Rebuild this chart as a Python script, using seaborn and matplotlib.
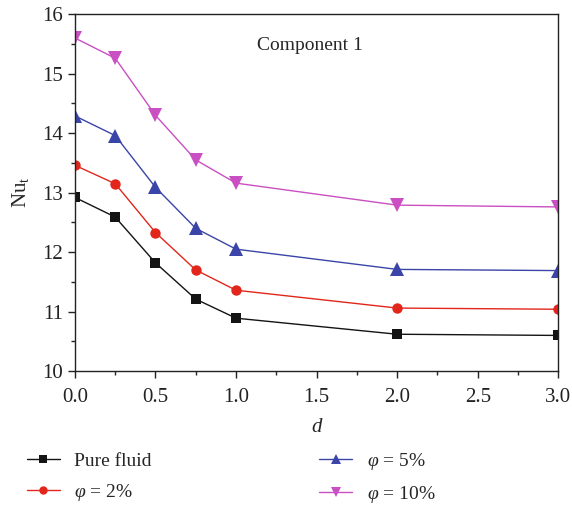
import matplotlib.pyplot as plt
import numpy as np
import pandas as pd
import seaborn as sns

# data
d_vals = [0.0, 0.25, 0.5, 0.75, 1.0, 2.0, 3.0]
nu_pure = [12.92, 12.59, 11.82, 11.21, 10.89, 10.62, 10.60]
nu_phi2 = [13.46, 13.15, 12.33, 11.70, 11.36, 11.06, 11.04]
nu_phi5 = [14.29, 13.96, 13.09, 12.40, 12.05, 11.71, 11.69]
nu_phi10 = [15.60, 15.26, 14.30, 13.55, 13.16, 12.79, 12.76]
labels = ['Pure fluid', r'$\varphi$ = 2%', r'$\varphi$ = 5%', r'$\varphi$ = 10%']

df = pd.DataFrame({
    'd': d_vals * 4,
    'Nu': nu_pure + nu_phi2 + nu_phi5 + nu_phi10,
    'case': np.repeat(labels, len(d_vals)),
})

sns.set_style('ticks')
plt.rcParams['font.family'] = ['Liberation Serif', 'DejaVu Serif']
plt.rcParams['mathtext.fontset'] = 'custom'
plt.rcParams['mathtext.rm'] = 'Liberation Serif'
plt.rcParams['mathtext.it'] = 'Liberation Serif:italic'

palette = ['#141414', '#e2261c', '#3b44a8', '#c94fc2']
markers = ['s', 'o', '^', 'v']

fig = plt.figure(figsize=(5.72, 5.07), dpi=100)
ax = fig.add_axes([0.131, 0.268, 0.845, 0.704])

sns.lineplot(data=df, x='d', y='Nu', hue='case', style='case', palette=palette,
             markers=markers, dashes=False, markersize=7.5, linewidth=1.0,
             markeredgewidth=0, ax=ax, legend=True)

# triangles look smaller than squares at the same size
for ln in ax.lines:
    if ln.get_marker() in ('^', 'v'):
        ln.set_markersize(9.5)

ax.set_xlim(0, 3.0)
ax.set_ylim(10, 16)
ax.set_xticks(np.arange(0, 3.01, 0.5))
ax.set_xticks(np.arange(0, 3.01, 0.25), minor=True)
ax.set_yticks(np.arange(10, 16.01, 1))
ax.set_yticks(np.arange(10, 16.01, 0.5), minor=True)
ax.xaxis.set_major_formatter(plt.FormatStrFormatter('%.1f'))
ax.tick_params(which='major', direction='out', length=5, width=1, labelsize=15, colors='#222222')
ax.tick_params(axis='x', which='major', pad=7)
ax.tick_params(which='minor', direction='out', length=3, width=1)
for s in ax.spines.values():
    s.set_linewidth(1.0)
    s.set_color('#222222')

ax.set_xlabel('d', fontsize=15, style='italic', labelpad=8)
ax.set_ylabel(r'Nu$_\mathregular{t}$', fontsize=15, labelpad=8)
ax.text(1.46, 15.48, 'Component 1', fontsize=14, ha='center', va='center')

handles, lbls = ax.get_legend_handles_labels()
ax.get_legend().remove()
fig.legend(handles, lbls, loc='lower left', bbox_to_anchor=(0.016, -0.03), ncol=2,
           frameon=False, fontsize=14, columnspacing=8.6, handlelength=1.7,
           handletextpad=0.75, labelspacing=0.6, markerscale=0.8)

fig.savefig('out.png', dpi=100)
